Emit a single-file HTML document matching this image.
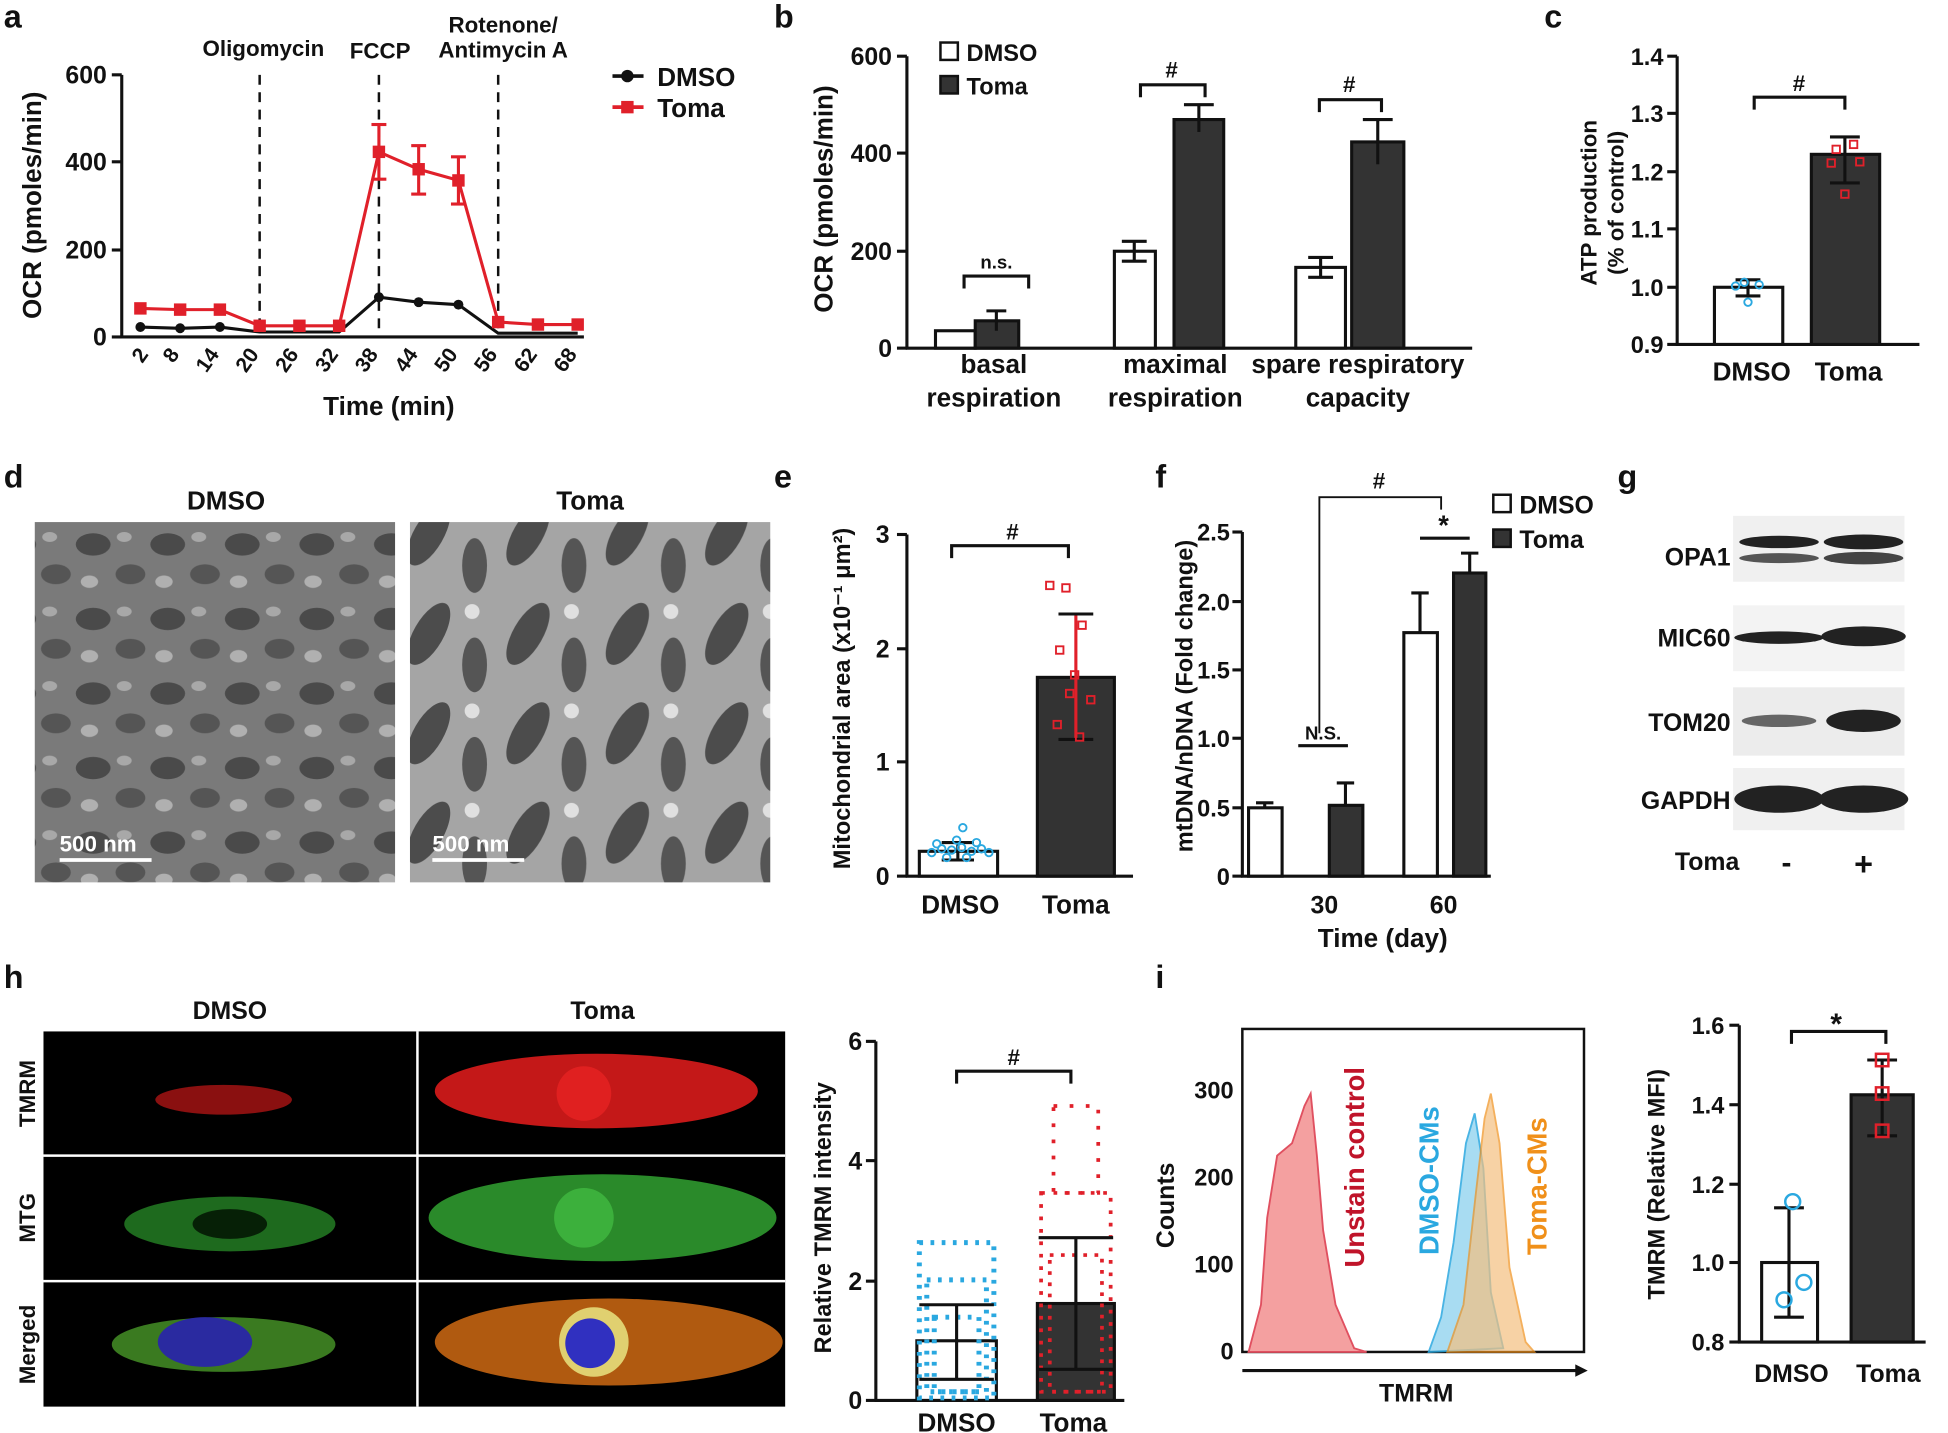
<!DOCTYPE html>
<html><head><meta charset="utf-8"><style>
html,body{margin:0;padding:0;background:#fff;}
svg{display:block;}
text{font-family:"Liberation Sans",sans-serif;font-weight:bold;fill:#111;}
</style></head><body>
<svg width="1948" height="1433" viewBox="0 0 1568 1153" xmlns="http://www.w3.org/2000/svg">
<defs>
<pattern id="tem" width="60" height="60" patternUnits="userSpaceOnUse">
<rect width="60" height="60" fill="#7a7a7a"/>
<ellipse cx="15" cy="18" rx="14" ry="9" fill="#4a4a4a"/>
<ellipse cx="45" cy="42" rx="12" ry="8" fill="#555"/>
<ellipse cx="40" cy="12" rx="6" ry="4" fill="#a8a8a8"/>
<ellipse cx="12" cy="48" rx="7" ry="5" fill="#b0b0b0"/>
</pattern>
<pattern id="tem2" width="80" height="80" patternUnits="userSpaceOnUse">
<rect width="80" height="80" fill="#a5a5a5"/>
<ellipse cx="25" cy="30" rx="12" ry="28" fill="#4c4c4c" transform="rotate(30 25 30)"/>
<ellipse cx="62" cy="55" rx="10" ry="22" fill="#555"/>
<circle cx="60" cy="12" r="6" fill="#e0e0e0"/>
</pattern>
</defs>

<!-- Panel a -->
<text x="3" y="22" font-size="26">a</text>
<text x="212" y="45" font-size="18" text-anchor="middle">Oligomycin</text>
<text x="306" y="47" font-size="18" text-anchor="middle">FCCP</text>
<text x="405" y="26" font-size="18" text-anchor="middle">Rotenone/</text>
<text x="405" y="46" font-size="18" text-anchor="middle">Antimycin A</text>
<g stroke="#111" stroke-width="2.5" fill="none">
<line x1="98" y1="60" x2="98" y2="272"/>
<line x1="97" y1="271" x2="470" y2="271"/>
<line x1="90" y1="60" x2="98" y2="60"/><line x1="90" y1="130" x2="98" y2="130"/><line x1="90" y1="201" x2="98" y2="201"/><line x1="90" y1="271" x2="98" y2="271"/>
</g>
<g stroke="#111" stroke-width="2" stroke-dasharray="8,6">
<line x1="209" y1="60" x2="209" y2="271"/><line x1="305" y1="60" x2="305" y2="271"/><line x1="401" y1="60" x2="401" y2="271"/>
</g>
<g font-size="20" text-anchor="end"><text x="86" y="67">600</text><text x="86" y="137">400</text><text x="86" y="208">200</text><text x="86" y="278">0</text></g>
<g font-size="17" text-anchor="end">
<text transform="translate(120,285) rotate(-55)">2</text>
<text transform="translate(145,285) rotate(-55)">8</text>
<text transform="translate(177,285) rotate(-55)">14</text>
<text transform="translate(209,285) rotate(-55)">20</text>
<text transform="translate(241,285) rotate(-55)">26</text>
<text transform="translate(273,285) rotate(-55)">32</text>
<text transform="translate(305,285) rotate(-55)">38</text>
<text transform="translate(337,285) rotate(-55)">44</text>
<text transform="translate(369,285) rotate(-55)">50</text>
<text transform="translate(401,285) rotate(-55)">56</text>
<text transform="translate(433,285) rotate(-55)">62</text>
<text transform="translate(465,285) rotate(-55)">68</text>
</g>
<text x="313" y="334" font-size="21" text-anchor="middle">Time (min)</text>
<text transform="translate(33,165) rotate(-90)" font-size="21" text-anchor="middle">OCR (pmoles/min)</text>
<polyline fill="none" stroke="#111" stroke-width="2.5" points="113,263 145,264 177,263 209,267 241,267 273,267 305,239 337,243 369,245 401,268 433,268 465,268"/>
<g fill="#111"><circle cx="113" cy="263" r="4"/><circle cx="145" cy="264" r="4"/><circle cx="177" cy="263" r="4"/><circle cx="305" cy="239" r="4"/><circle cx="337" cy="243" r="4"/><circle cx="369" cy="245" r="4"/></g>
<polyline fill="none" stroke="#e0202a" stroke-width="2.5" points="113,248 145,249 177,249 209,262 241,262 273,262 305,122 337,136 369,145 401,259 433,261 465,261"/>
<g stroke="#e0202a" stroke-width="2.5">
<line x1="305" y1="100" x2="305" y2="144"/><line x1="299" y1="100" x2="311" y2="100"/><line x1="299" y1="144" x2="311" y2="144"/>
<line x1="337" y1="117" x2="337" y2="156"/><line x1="331" y1="117" x2="343" y2="117"/><line x1="331" y1="156" x2="343" y2="156"/>
<line x1="369" y1="126" x2="369" y2="164"/><line x1="363" y1="126" x2="375" y2="126"/><line x1="363" y1="164" x2="375" y2="164"/>
</g>
<g fill="#e0202a"><rect x="108" y="243" width="10" height="10"/><rect x="140" y="244" width="10" height="10"/><rect x="172" y="244" width="10" height="10"/><rect x="204" y="257" width="10" height="10"/><rect x="236" y="257" width="10" height="10"/><rect x="268" y="257" width="10" height="10"/><rect x="300" y="117" width="10" height="10"/><rect x="332" y="131" width="10" height="10"/><rect x="364" y="140" width="10" height="10"/><rect x="396" y="254" width="10" height="10"/><rect x="428" y="256" width="10" height="10"/><rect x="460" y="256" width="10" height="10"/></g>
<line x1="493" y1="61" x2="518" y2="61" stroke="#111" stroke-width="3"/><circle cx="505" cy="61" r="5" fill="#111"/>
<text x="529" y="69" font-size="21">DMSO</text>
<line x1="493" y1="86" x2="518" y2="86" stroke="#e0202a" stroke-width="3"/><rect x="500" y="81" width="10" height="10" fill="#e0202a"/>
<text x="529" y="94" font-size="21">Toma</text>

<!-- Panel b -->
<text x="623" y="22" font-size="26">b</text>
<g stroke="#111" stroke-width="2.5" fill="none">
<line x1="730" y1="45" x2="730" y2="281"/><line x1="729" y1="280" x2="1185" y2="280"/>
<line x1="722" y1="45" x2="730" y2="45"/><line x1="722" y1="123" x2="730" y2="123"/><line x1="722" y1="202" x2="730" y2="202"/><line x1="722" y1="280" x2="730" y2="280"/>
</g>
<g font-size="20" text-anchor="end"><text x="718" y="52">600</text><text x="718" y="130">400</text><text x="718" y="209">200</text><text x="718" y="287">0</text></g>
<text transform="translate(670,160) rotate(-90)" font-size="21" text-anchor="middle">OCR (pmoles/min)</text>
<g stroke="#111" stroke-width="2.5">
<rect x="753" y="266" width="32" height="14" fill="#fff"/><rect x="785" y="258" width="35" height="22" fill="#333"/>
<rect x="897" y="202" width="33" height="78" fill="#fff"/><rect x="945" y="96" width="40" height="184" fill="#333"/>
<rect x="1043" y="215" width="40" height="65" fill="#fff"/><rect x="1088" y="114" width="42" height="166" fill="#333"/>
<line x1="913" y1="194" x2="913" y2="210"/><line x1="903" y1="194" x2="923" y2="194"/><line x1="903" y1="210" x2="923" y2="210"/>
<line x1="965" y1="84" x2="965" y2="106"/><line x1="953" y1="84" x2="977" y2="84"/>
<line x1="1063" y1="207" x2="1063" y2="223"/><line x1="1053" y1="207" x2="1073" y2="207"/><line x1="1053" y1="223" x2="1073" y2="223"/>
<line x1="1109" y1="96" x2="1109" y2="132"/><line x1="1097" y1="96" x2="1121" y2="96"/>
<line x1="802" y1="250" x2="802" y2="266"/><line x1="794" y1="250" x2="810" y2="250"/>
</g>
<g stroke="#111" stroke-width="2.5" fill="none">
<polyline points="776,232 776,222 828,222 828,232"/><polyline points="918,78 918,68 970,68 970,78"/><polyline points="1062,90 1062,80 1112,80 1112,90"/>
</g>
<text x="802" y="216" font-size="15" text-anchor="middle">n.s.</text>
<text x="943" y="62" font-size="18" text-anchor="middle">#</text>
<text x="1086" y="74" font-size="18" text-anchor="middle">#</text>
<rect x="757" y="34" width="14" height="14" fill="#fff" stroke="#111" stroke-width="2"/><text x="778" y="49" font-size="19">DMSO</text>
<rect x="757" y="61" width="14" height="14" fill="#333" stroke="#111" stroke-width="2"/><text x="778" y="76" font-size="19">Toma</text>
<g font-size="21" text-anchor="middle">
<text x="800" y="300">basal</text><text x="800" y="327">respiration</text>
<text x="946" y="300">maximal</text><text x="946" y="327">respiration</text>
<text x="1093" y="300">spare respiratory</text><text x="1093" y="327">capacity</text>
</g>

<!-- Panel c -->
<text x="1243" y="22" font-size="26">c</text>
<g stroke="#111" stroke-width="2.5" fill="none">
<line x1="1350" y1="45" x2="1350" y2="278"/><line x1="1349" y1="277" x2="1545" y2="277"/>
<line x1="1342" y1="45" x2="1350" y2="45"/><line x1="1342" y1="91" x2="1350" y2="91"/><line x1="1342" y1="138" x2="1350" y2="138"/><line x1="1342" y1="184" x2="1350" y2="184"/><line x1="1342" y1="231" x2="1350" y2="231"/><line x1="1342" y1="277" x2="1350" y2="277"/>
</g>
<g font-size="19" text-anchor="end"><text x="1339" y="52">1.4</text><text x="1339" y="98">1.3</text><text x="1339" y="145">1.2</text><text x="1339" y="191">1.1</text><text x="1339" y="238">1.0</text><text x="1339" y="284">0.9</text></g>
<text transform="translate(1285,163) rotate(-90)" font-size="18" text-anchor="middle">ATP production</text>
<text transform="translate(1307,163) rotate(-90)" font-size="18" text-anchor="middle">(% of control)</text>
<g stroke="#111" stroke-width="2.5">
<rect x="1380" y="231" width="55" height="46" fill="#fff"/><rect x="1458" y="124" width="55" height="153" fill="#333"/>
<line x1="1407" y1="225" x2="1407" y2="238"/><line x1="1397" y1="225" x2="1417" y2="225"/><line x1="1397" y1="238" x2="1417" y2="238"/>
<line x1="1485" y1="110" x2="1485" y2="147"/><line x1="1473" y1="110" x2="1497" y2="110"/><line x1="1473" y1="147" x2="1497" y2="147"/>
</g>
<g fill="none" stroke="#2aa8e0" stroke-width="1.5"><circle cx="1397" cy="230" r="3"/><circle cx="1407" cy="243" r="3"/><circle cx="1416" cy="229" r="3"/><circle cx="1404" cy="227" r="3"/></g>
<g fill="none" stroke="#e0202a" stroke-width="1.5"><rect x="1475" y="117" width="6" height="6"/><rect x="1489" y="113" width="6" height="6"/><rect x="1471" y="128" width="6" height="6"/><rect x="1494" y="127" width="6" height="6"/><rect x="1482" y="153" width="6" height="6"/></g>
<polyline points="1412,88 1412,78 1485,78 1485,88" stroke="#111" stroke-width="2.5" fill="none"/>
<text x="1448" y="73" font-size="18" text-anchor="middle">#</text>
<text x="1410" y="306" font-size="21" text-anchor="middle">DMSO</text><text x="1488" y="306" font-size="21" text-anchor="middle">Toma</text>

<!-- Panel d -->
<text x="3" y="392" font-size="26">d</text>
<text x="182" y="410" font-size="21" text-anchor="middle">DMSO</text>
<text x="475" y="410" font-size="21" text-anchor="middle">Toma</text>
<rect x="28" y="420" width="290" height="290" fill="url(#tem)"/>
<rect x="330" y="420" width="290" height="290" fill="url(#tem2)"/>
<text x="48" y="685" font-size="18" style="fill:#fff">500 nm</text><line x1="48" y1="692" x2="122" y2="692" stroke="#fff" stroke-width="3"/>
<text x="348" y="685" font-size="18" style="fill:#fff">500 nm</text><line x1="348" y1="692" x2="422" y2="692" stroke="#fff" stroke-width="3"/>

<!-- Panel e -->
<text x="623" y="392" font-size="26">e</text>
<g stroke="#111" stroke-width="2.5" fill="none">
<line x1="730" y1="430" x2="730" y2="706"/><line x1="729" y1="705" x2="912" y2="705"/>
<line x1="722" y1="430" x2="730" y2="430"/><line x1="722" y1="522" x2="730" y2="522"/><line x1="722" y1="613" x2="730" y2="613"/><line x1="722" y1="705" x2="730" y2="705"/>
</g>
<g font-size="20" text-anchor="end"><text x="716" y="437">3</text><text x="716" y="529">2</text><text x="716" y="620">1</text><text x="716" y="712">0</text></g>
<text transform="translate(684,562) rotate(-90)" font-size="19" text-anchor="middle">Mitochondrial area (x10⁻¹ μm²)</text>
<g stroke="#111" stroke-width="2.5">
<rect x="740" y="685" width="63" height="20" fill="#fff"/><rect x="835" y="545" width="62" height="160" fill="#333"/>
<line x1="771" y1="678" x2="771" y2="692"/><line x1="758" y1="678" x2="784" y2="678"/><line x1="758" y1="692" x2="784" y2="692"/>
<line x1="866" y1="494" x2="866" y2="595" stroke="#e0202a"/><line x1="852" y1="494" x2="880" y2="494"/><line x1="852" y1="595" x2="880" y2="595"/>
</g>
<g fill="none" stroke="#2aa8e0" stroke-width="1.5">
<circle cx="750" cy="686" r="3"/><circle cx="758" cy="683" r="3"/><circle cx="766" cy="684" r="3"/><circle cx="774" cy="682" r="3"/><circle cx="782" cy="685" r="3"/><circle cx="790" cy="683" r="3"/><circle cx="796" cy="686" r="3"/><circle cx="762" cy="690" r="3"/><circle cx="778" cy="690" r="3"/><circle cx="770" cy="676" r="3"/><circle cx="786" cy="678" r="3"/><circle cx="754" cy="679" r="3"/><circle cx="775" cy="666" r="3"/>
</g>
<g fill="none" stroke="#e0202a" stroke-width="1.5">
<rect x="842" y="468" width="6" height="6"/><rect x="855" y="470" width="6" height="6"/><rect x="868" y="500" width="6" height="6"/><rect x="850" y="520" width="6" height="6"/><rect x="862" y="540" width="6" height="6"/><rect x="875" y="560" width="6" height="6"/><rect x="848" y="580" width="6" height="6"/><rect x="866" y="590" width="6" height="6"/><rect x="858" y="555" width="6" height="6"/>
</g>
<polyline points="766,449 766,439 860,439 860,449" stroke="#111" stroke-width="2.5" fill="none"/>
<text x="815" y="434" font-size="18" text-anchor="middle">#</text>
<text x="773" y="735" font-size="21" text-anchor="middle">DMSO</text><text x="866" y="735" font-size="21" text-anchor="middle">Toma</text>

<!-- Panel f -->
<text x="930" y="392" font-size="26">f</text>
<g stroke="#111" stroke-width="2.5" fill="none">
<line x1="1000" y1="428" x2="1000" y2="706"/><line x1="999" y1="705" x2="1200" y2="705"/>
<line x1="992" y1="428" x2="1000" y2="428"/><line x1="992" y1="484" x2="1000" y2="484"/><line x1="992" y1="539" x2="1000" y2="539"/><line x1="992" y1="594" x2="1000" y2="594"/><line x1="992" y1="650" x2="1000" y2="650"/><line x1="992" y1="705" x2="1000" y2="705"/>
</g>
<g font-size="19" text-anchor="end"><text x="990" y="435">2.5</text><text x="990" y="491">2.0</text><text x="990" y="546">1.5</text><text x="990" y="601">1.0</text><text x="990" y="657">0.5</text><text x="990" y="712">0</text></g>
<text transform="translate(960,560) rotate(-90)" font-size="19" text-anchor="middle">mtDNA/nDNA (Fold change)</text>
<g stroke="#111" stroke-width="2.5">
<rect x="1005" y="650" width="27" height="55" fill="#fff"/><rect x="1070" y="648" width="27" height="57" fill="#333"/>
<rect x="1130" y="509" width="27" height="196" fill="#fff"/><rect x="1170" y="461" width="26" height="244" fill="#333"/>
<line x1="1018" y1="646" x2="1018" y2="650"/><line x1="1011" y1="646" x2="1025" y2="646"/>
<line x1="1083" y1="630" x2="1083" y2="648"/><line x1="1076" y1="630" x2="1090" y2="630"/>
<line x1="1143" y1="477" x2="1143" y2="509"/><line x1="1136" y1="477" x2="1150" y2="477"/>
<line x1="1183" y1="445" x2="1183" y2="461"/><line x1="1176" y1="445" x2="1190" y2="445"/>
<line x1="1045" y1="600" x2="1085" y2="600"/><line x1="1143" y1="433" x2="1183" y2="433"/>
</g>
<polyline points="1062,590 1062,400 1160,400 1160,410" stroke="#111" stroke-width="1.5" fill="none"/>
<text x="1065" y="595" font-size="15" text-anchor="middle">N.S.</text>
<text x="1110" y="393" font-size="18" text-anchor="middle">#</text>
<text x="1162" y="430" font-size="22" text-anchor="middle">*</text>
<rect x="1202" y="398" width="14" height="14" fill="#fff" stroke="#111" stroke-width="2"/><text x="1223" y="413" font-size="20">DMSO</text>
<rect x="1202" y="426" width="14" height="14" fill="#333" stroke="#111" stroke-width="2"/><text x="1223" y="441" font-size="20">Toma</text>
<text x="1066" y="735" font-size="20" text-anchor="middle">30</text><text x="1162" y="735" font-size="20" text-anchor="middle">60</text>
<text x="1113" y="762" font-size="21" text-anchor="middle">Time (day)</text>

<!-- Panel g -->
<text x="1302" y="392" font-size="26">g</text>
<rect x="1395" y="415" width="138" height="53" fill="#f0f0f0"/>
<rect x="1395" y="487" width="138" height="53" fill="#f3f3f3"/>
<rect x="1395" y="553" width="138" height="55" fill="#ececec"/>
<rect x="1395" y="618" width="138" height="50" fill="#f0f0f0"/>
<g fill="#222">
<ellipse cx="1432" cy="436" rx="32" ry="5"/><ellipse cx="1500" cy="436" rx="32" ry="6"/>
<ellipse cx="1432" cy="449" rx="32" ry="4" fill="#555"/><ellipse cx="1500" cy="449" rx="32" ry="5" fill="#444"/>
<ellipse cx="1432" cy="513" rx="36" ry="5"/><ellipse cx="1500" cy="512" rx="34" ry="8"/>
<ellipse cx="1432" cy="580" rx="30" ry="5" fill="#666"/><ellipse cx="1500" cy="580" rx="30" ry="9"/>
<ellipse cx="1432" cy="643" rx="36" ry="11"/><ellipse cx="1500" cy="643" rx="36" ry="11"/>
</g>
<g font-size="20" text-anchor="end"><text x="1393" y="455">OPA1</text><text x="1393" y="520">MIC60</text><text x="1393" y="588">TOM20</text><text x="1393" y="651">GAPDH</text><text x="1400" y="700">Toma</text></g>
<text x="1438" y="702" font-size="24" text-anchor="middle">-</text><text x="1500" y="704" font-size="26" text-anchor="middle">+</text>

<!-- Panel h -->
<text x="3" y="795" font-size="26">h</text>
<text x="185" y="820" font-size="20" text-anchor="middle">DMSO</text><text x="485" y="820" font-size="20" text-anchor="middle">Toma</text>
<rect x="35" y="830" width="597" height="302" fill="#000"/>
<g stroke="#fff" stroke-width="2"><line x1="336" y1="830" x2="336" y2="1132"/><line x1="35" y1="930" x2="632" y2="930"/><line x1="35" y1="1031" x2="632" y2="1031"/></g>
<ellipse cx="180" cy="885" rx="55" ry="12" fill="#8a1010"/>
<ellipse cx="480" cy="878" rx="130" ry="30" fill="#c41818"/><circle cx="470" cy="880" r="22" fill="#e02020"/>
<ellipse cx="185" cy="985" rx="85" ry="22" fill="#1e6a1e"/><ellipse cx="185" cy="985" rx="30" ry="12" fill="#062006"/>
<ellipse cx="485" cy="980" rx="140" ry="35" fill="#2a8a2a"/><circle cx="470" cy="980" r="24" fill="#3cb03c"/>
<ellipse cx="180" cy="1082" rx="90" ry="22" fill="#3a7a20"/><ellipse cx="165" cy="1080" rx="38" ry="20" fill="#2a2aa0"/>
<ellipse cx="490" cy="1080" rx="140" ry="35" fill="#b05a10"/><circle cx="478" cy="1080" r="28" fill="#e0d070"/><circle cx="475" cy="1081" r="20" fill="#3030c0"/>
<g font-size="18"><text transform="translate(28,880) rotate(-90)" text-anchor="middle">TMRM</text><text transform="translate(28,980) rotate(-90)" text-anchor="middle">MTG</text><text transform="translate(28,1082) rotate(-90)" text-anchor="middle">Merged</text></g>
<g stroke="#111" stroke-width="2.5" fill="none">
<line x1="705" y1="838" x2="705" y2="1128"/><line x1="704" y1="1127" x2="905" y2="1127"/>
<line x1="697" y1="838" x2="705" y2="838"/><line x1="697" y1="934" x2="705" y2="934"/><line x1="697" y1="1031" x2="705" y2="1031"/><line x1="697" y1="1127" x2="705" y2="1127"/>
</g>
<g font-size="20" text-anchor="end"><text x="694" y="845">6</text><text x="694" y="941">4</text><text x="694" y="1038">2</text><text x="694" y="1134">0</text></g>
<text transform="translate(669,980) rotate(-90)" font-size="19" text-anchor="middle">Relative TMRM intensity</text>
<rect x="738" y="1079" width="64" height="48" fill="#fff" stroke="#111" stroke-width="2.5"/>
<rect x="835" y="1049" width="62" height="78" fill="#333" stroke="#111" stroke-width="2.5"/>
<g fill="none" stroke="#2aa8e0" stroke-width="1.2">
<rect x="740" y="1000" width="60" height="125" stroke-dasharray="3,6" stroke-width="4"/>
<rect x="746" y="1030" width="48" height="90" stroke-dasharray="3,6" stroke-width="4"/>
<rect x="752" y="1060" width="36" height="60" stroke-dasharray="3,6" stroke-width="4"/>
</g>
<g fill="none" stroke="#e0202a" stroke-width="1.2">
<rect x="838" y="960" width="56" height="160" stroke-dasharray="3,7" stroke-width="3"/>
<rect x="848" y="890" width="36" height="70" stroke-dasharray="3,10" stroke-width="3"/>
<rect x="845" y="1010" width="42" height="110" stroke-dasharray="3,6" stroke-width="3"/>
</g>
<g stroke="#111" stroke-width="2.5">
<line x1="770" y1="1050" x2="770" y2="1110"/><line x1="740" y1="1050" x2="800" y2="1050"/><line x1="740" y1="1110" x2="800" y2="1110"/>
<line x1="866" y1="996" x2="866" y2="1102"/><line x1="836" y1="996" x2="896" y2="996"/><line x1="836" y1="1102" x2="896" y2="1102"/>
</g>
<polyline points="770,872 770,862 862,862 862,872" stroke="#111" stroke-width="2.5" fill="none"/>
<text x="816" y="857" font-size="18" text-anchor="middle">#</text>
<text x="770" y="1152" font-size="21" text-anchor="middle">DMSO</text><text x="864" y="1152" font-size="21" text-anchor="middle">Toma</text>

<!-- Panel i -->
<text x="930" y="795" font-size="26">i</text>
<rect x="1000" y="828" width="275" height="260" fill="none" stroke="#111" stroke-width="2"/>
<line x1="1000" y1="1103" x2="1272" y2="1103" stroke="#111" stroke-width="2.5"/><polygon points="1278,1103 1268,1098 1268,1108" fill="#111"/>
<g font-size="19" text-anchor="end"><text x="993" y="884">300</text><text x="993" y="954">200</text><text x="993" y="1024">100</text><text x="993" y="1094">0</text></g>
<text transform="translate(945,970) rotate(-90)" font-size="20" text-anchor="middle">Counts</text>
<text x="1140" y="1128" font-size="20" text-anchor="middle">TMRM</text>
<path d="M1005,1088 L1015,1050 L1020,980 L1028,930 L1040,920 L1050,890 L1055,880 L1060,930 L1065,990 L1075,1050 L1090,1085 L1100,1088 Z" fill="#f4a0a0" stroke="#e05060" stroke-width="1.5"/>
<path d="M1150,1088 L1160,1060 L1170,1000 L1180,920 L1187,896 L1194,940 L1200,1040 L1210,1085 Z" fill="#9ad6f0" stroke="#2aa8e0" stroke-width="1.5" opacity="0.85"/>
<path d="M1165,1088 L1178,1050 L1188,960 L1195,900 L1200,880 L1207,920 L1215,1020 L1228,1080 L1235,1088 Z" fill="#f4c080" stroke="#f0901a" stroke-width="1.5" opacity="0.7"/>
<text transform="translate(1098,1020) rotate(-90)" font-size="22" style="fill:#c0142a">Unstain control</text>
<text transform="translate(1158,1010) rotate(-90)" font-size="22" style="fill:#2aa8e0">DMSO-CMs</text>
<text transform="translate(1245,1010) rotate(-90)" font-size="22" style="fill:#f0901a">Toma-CMs</text>
<g stroke="#111" stroke-width="2.5" fill="none">
<line x1="1400" y1="825" x2="1400" y2="1081"/><line x1="1399" y1="1080" x2="1550" y2="1080"/>
<line x1="1392" y1="825" x2="1400" y2="825"/><line x1="1392" y1="889" x2="1400" y2="889"/><line x1="1392" y1="953" x2="1400" y2="953"/><line x1="1392" y1="1016" x2="1400" y2="1016"/><line x1="1392" y1="1080" x2="1400" y2="1080"/>
</g>
<g font-size="19" text-anchor="end"><text x="1388" y="832">1.6</text><text x="1388" y="896">1.4</text><text x="1388" y="960">1.2</text><text x="1388" y="1023">1.0</text><text x="1388" y="1087">0.8</text></g>
<text transform="translate(1340,953) rotate(-90)" font-size="19" text-anchor="middle">TMRM (Relative MFI)</text>
<g stroke="#111" stroke-width="2.5">
<rect x="1418" y="1016" width="45" height="64" fill="#fff"/><rect x="1490" y="881" width="50" height="199" fill="#333"/>
<line x1="1440" y1="972" x2="1440" y2="1060"/><line x1="1428" y1="972" x2="1452" y2="972"/><line x1="1428" y1="1060" x2="1452" y2="1060"/>
<line x1="1515" y1="853" x2="1515" y2="914"/><line x1="1503" y1="853" x2="1527" y2="853"/><line x1="1503" y1="914" x2="1527" y2="914"/>
</g>
<g fill="none" stroke="#2aa8e0" stroke-width="2"><circle cx="1443" cy="967" r="6"/><circle cx="1452" cy="1032" r="6"/><circle cx="1436" cy="1046" r="6"/></g>
<g fill="none" stroke="#e0202a" stroke-width="2"><rect x="1510" y="848" width="10" height="10"/><rect x="1510" y="875" width="10" height="10"/><rect x="1510" y="905" width="10" height="10"/></g>
<polyline points="1442,840 1442,830 1518,830 1518,840" stroke="#111" stroke-width="2.5" fill="none"/>
<text x="1478" y="832" font-size="24" text-anchor="middle">*</text>
<text x="1442" y="1112" font-size="20" text-anchor="middle">DMSO</text><text x="1520" y="1112" font-size="20" text-anchor="middle">Toma</text>
</svg>
</body></html>
